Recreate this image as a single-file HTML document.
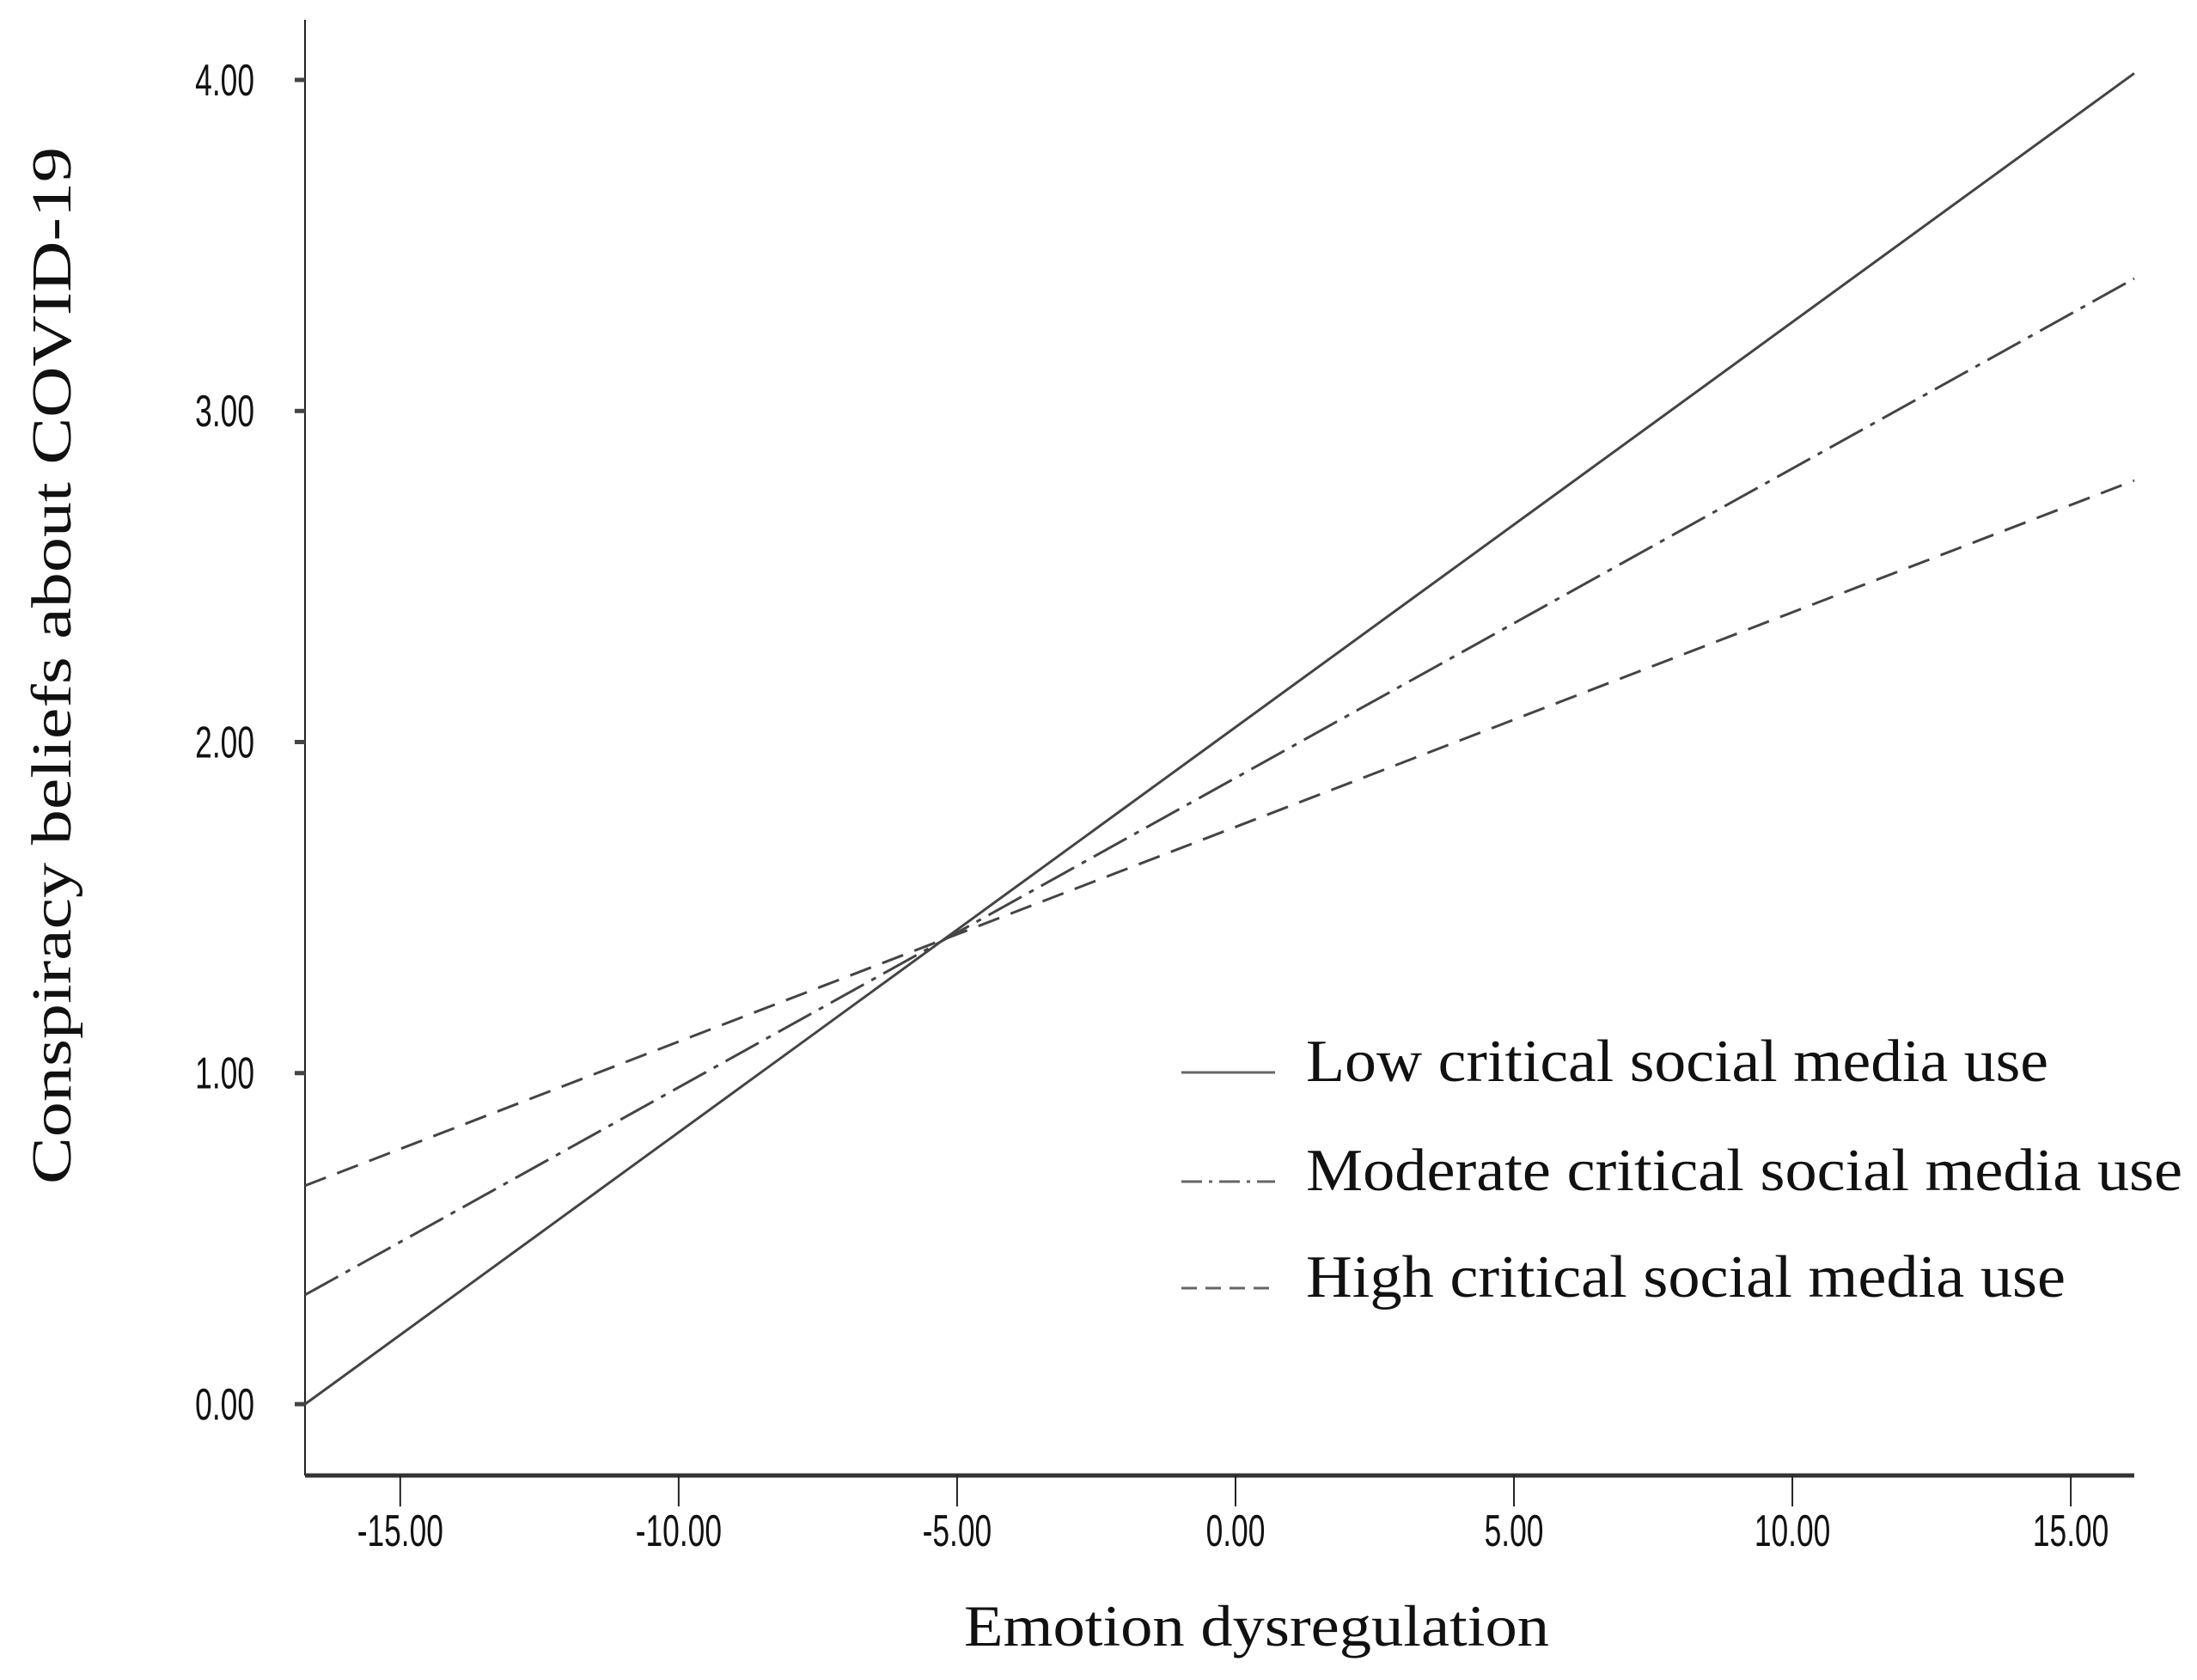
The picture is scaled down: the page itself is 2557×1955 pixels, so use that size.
<!DOCTYPE html>
<html><head><meta charset="utf-8"><style>html,body{margin:0;padding:0;background:#fff}svg{display:block}</style></head>
<body>
<svg id="chart" width="2557" height="1955" viewBox="0 0 2557 1955" xmlns="http://www.w3.org/2000/svg">
<g id="axes"></g>
<g id="series"></g>
<g id="legend"></g>
<text x="1122" y="1915" textLength="681" lengthAdjust="spacingAndGlyphs" font-family="Liberation Serif, serif" font-size="68" fill="#111">Emotion dysregulation</text>
<text transform="translate(82,1378) rotate(-90)" x="0" y="0" textLength="1207" lengthAdjust="spacingAndGlyphs" font-family="Liberation Serif, serif" font-size="66" fill="#111">Conspiracy beliefs about COVID-19</text>
</svg>
<script>
const xTicks = [-15, -10, -5, 0, 5, 10, 15];
const xTickLabels = ["-15.00","-10.00","-5.00","0.00","5.00","10.00","15.00"];
const yTicks = [0, 1, 2, 3, 4];
const yTickLabels = ["0.00","1.00","2.00","3.00","4.00"];
const xDomain = [-16.71, 16.14];
const seriesNames = ["Low critical social media use","Moderate critical social media use","High critical social media use"];
const lowValues = [0.00, 4.02];
const moderateValues = [0.33, 3.40];
const highValues = [0.66, 2.79];

const NS = "http://www.w3.org/2000/svg";
const X0 = 355, X1 = 2484, YB = 1717, Y0px = 1634, Y4px = 93;
function xs(v){ return X0 + (v - xDomain[0]) / (xDomain[1] - xDomain[0]) * (X1 - X0); }
function ys(v){ return Y0px + (v - 0) / 4 * (Y4px - Y0px); }
function mk(tag, attrs, parent){ const e = document.createElementNS(NS, tag); for (const k in attrs) e.setAttribute(k, attrs[k]); parent.appendChild(e); return e; }

const axes = document.getElementById('axes');
let yl = mk('line', {x1:X0, y1:23, x2:X0, y2:YB, stroke:'#222', 'stroke-width':2}, axes);


let xl = mk('line', {x1:X0, y1:YB, x2:X1, y2:YB, stroke:'#333', 'stroke-width':5}, axes);


xTicks.forEach((t, i) => {
  const x = xs(t);
  const tk = mk('line', {x1:x, y1:YB, x2:x, y2:YB+36, stroke:'#222', 'stroke-width':2}, axes);
  
  
  const tx = mk('text', {x:x, y:1799, 'text-anchor':'middle', 'font-family':'Liberation Sans, sans-serif', 'font-size':52, fill:'#111', transform:`translate(${x},0) scale(0.68,1) translate(${-x},0)`}, axes);
  tx.textContent = xTickLabels[i];
  
  
});
yTicks.forEach((t, i) => {
  const y = ys(t);
  const tk = mk('line', {x1:X0-12, y1:y, x2:X0, y2:y, stroke:'#444', 'stroke-width':5}, axes);
  
  
  const tx = mk('text', {x:296, y:y+18, 'text-anchor':'end', 'font-family':'Liberation Sans, sans-serif', 'font-size':52, fill:'#111', transform:`translate(296,0) scale(0.68,1) translate(-296,0)`}, axes);
  tx.textContent = yTickLabels[i];
  
  
});

const series = document.getElementById('series');
const dashes = ['none', '44 10 6 10', '26 14'];
const allVals = [lowValues, moderateValues, highValues];
const lineNames = ['low-line','moderate-line','high-line'];
allVals.forEach((vals, i) => {
  const l = mk('line', {x1:xs(xDomain[0]), y1:ys(vals[0]), x2:xs(xDomain[1]), y2:ys(vals[1]), stroke:'#444', 'stroke-width':3, 'stroke-dasharray':dashes[i]}, series);
  
  
});

const legend = document.getElementById('legend');
const legY = [1236, 1363, 1487];
const legW = [864, 1020, 884];
const legendDashes = ['none', '24 8 4 8', '18 10'];
seriesNames.forEach((n, i) => {
  const l = mk('line', {x1:1375, y1:legY[i]+12, x2:1484, y2:legY[i]+12, stroke:'#666', 'stroke-width':3, 'stroke-dasharray':legendDashes[i]}, legend);
  
  
  const t = mk('text', {x:1520, y:legY[i]+22, textLength:legW[i], lengthAdjust:'spacingAndGlyphs', 'font-family':'Liberation Serif, serif', 'font-size':70, fill:'#111'}, legend);
  t.textContent = n;
  
  
});
</script>
</body></html>
